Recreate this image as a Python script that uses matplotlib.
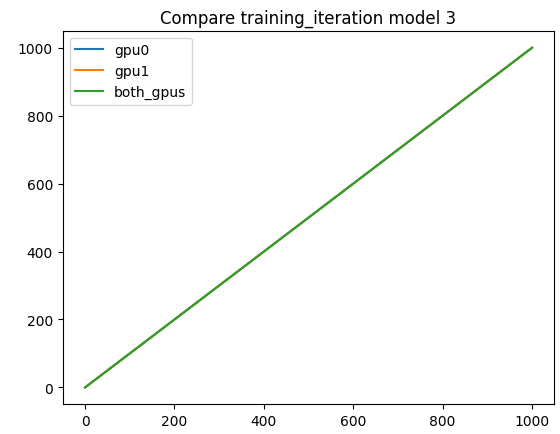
import matplotlib
matplotlib.use("Agg")
import matplotlib.pyplot as plt

iterations = [0, 250, 500, 750, 1000]
gpu0 = [0, 250, 500, 750, 1000]
gpu1 = [0, 250, 500, 750, 1000]
both_gpus = [0, 250, 500, 750, 1000]

fig, ax = plt.subplots(figsize=(5.6, 4.35), dpi=100)
ax.plot(iterations, gpu0, label="gpu0")
ax.plot(iterations, gpu1, label="gpu1")
ax.plot(iterations, both_gpus, label="both_gpus")
ax.set_title("Compare training_iteration model 3")
ax.legend(loc="upper left")
fig.subplots_adjust(left=0.112, right=0.99, bottom=0.068, top=0.927)
fig.savefig("out.png")
